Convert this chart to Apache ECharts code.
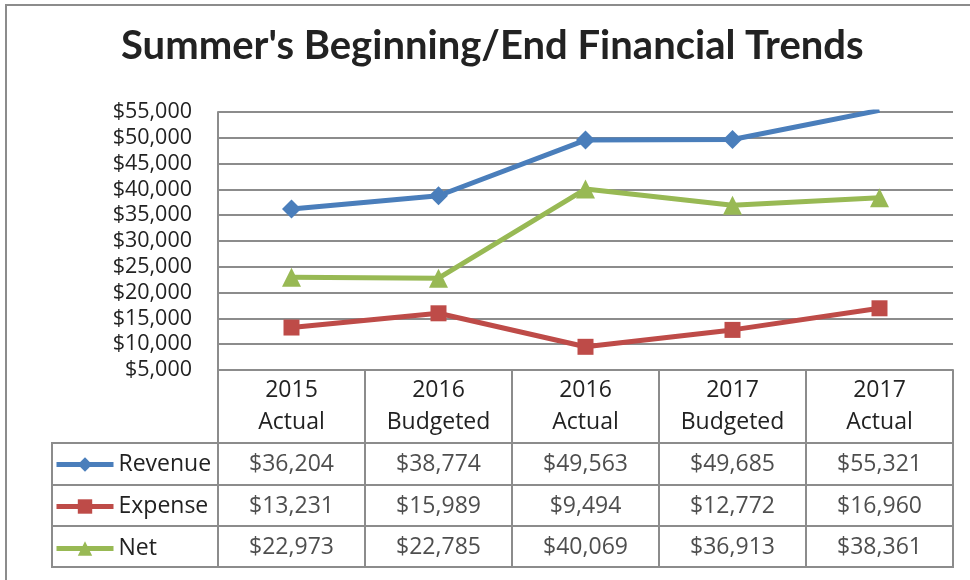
<!DOCTYPE html>
<html>
<head>
<meta charset="utf-8">
<script src="https://cdn.jsdelivr.net/npm/echarts@6/dist/echarts.min.js"></script>
<style>
	html, body { margin: 0; padding: 0; background: #fff; }
	#frame { position: absolute; left: 5px; top: 4px; width: 1000px; height: 1000px; border: 2px solid #8c8c8c; }
	#main { position: absolute; left: 0; top: 0; width: 970px; height: 580px; }
</style>
</head>
<body>
<div id="frame"></div>
<div id="main"></div>
<script>
// 类目与数据
const categories = ['2015\nActual', '2016\nBudgeted', '2016\nActual', '2017\nBudgeted', '2017\nActual'];
const revenue = [36204, 38774, 49563, 49685, 55321];
const expense = [13231, 15989, 9494, 12772, 16960];
const net = [22973, 22785, 40069, 36913, 38361];
const seriesNames = ['Revenue', 'Expense', 'Net'];
const yMin = 5000, yMax = 55000, yStep = 5000;

const colors = ['#4a7ebb', '#be4b48', '#98b954'];
const gridColor = '#8c8c8c';
const fontFamily = '"Open Sans", sans-serif';
const tableFont = 23;

const money = v => '$' + Number(v).toLocaleString('en-US');

// 表格单元格数据
const rows = [revenue, expense, net];
const tableCells = [];
rows.forEach((vals, r) => {
	vals.forEach((v, c) => tableCells.push([c, r, v]));
});

const lineSeries = (name, data, color, symbol, size) => ({
	name,
	type: 'line',
	xAxisIndex: 0,
	yAxisIndex: 0,
	data,
	symbol,
	symbolSize: size,
	lineStyle: { width: 5, color },
	itemStyle: { color },
	clip: true,
	animation: false
});

const option = {
	animation: false,
	title: {
		text: "Summer's Beginning/End Financial Trends",
		left: 121,
		top: 26,
		padding: 0,
		textStyle: { fontFamily: 'Lato, sans-serif', fontSize: 40, fontWeight: 'bold', color: '#222' }
	},
	legend: {
		data: seriesNames,
		orient: 'vertical',
		left: 54,
		top: 453,
		padding: 0,
		itemWidth: 57,
		itemHeight: 18,
		itemGap: 19,
		lineStyle: { width: 5 },
		textStyle: { fontFamily, fontSize: tableFont, color: '#222', lineHeight: 20 }
	},
	grid: [
		{ left: 218, top: 112, width: 735, height: 258 },
		{ left: 218, top: 443, width: 735, height: 124, show: true, borderColor: gridColor, borderWidth: 2 },
		{ left: 52, top: 443, width: 166, height: 124, show: true, borderColor: gridColor, borderWidth: 2 }
	],
	xAxis: [
		{
			gridIndex: 0,
			type: 'category',
			data: categories,
			position: 'bottom',
			axisLine: { lineStyle: { color: gridColor, width: 2 } },
			axisTick: { show: true, interval: 0, length: 73, lineStyle: { color: gridColor, width: 2 } },
			axisLabel: { interval: 0, margin: 4, fontFamily, fontSize: tableFont, lineHeight: 32, color: '#222' }
		},
		{
			gridIndex: 1,
			type: 'category',
			data: categories,
			axisLine: { show: false },
			axisTick: { show: false },
			axisLabel: { show: false },
			splitLine: { show: true, interval: 0, lineStyle: { color: gridColor, width: 2 } }
		},
		{ gridIndex: 2, type: 'value', show: false }
	],
	yAxis: [
		{
			gridIndex: 0,
			type: 'value',
			min: yMin,
			max: yMax,
			interval: yStep,
			axisLine: { show: true, lineStyle: { color: gridColor, width: 2 } },
			axisTick: { show: false },
			axisLabel: { margin: 26, fontFamily, fontSize: 21.5, color: '#222', formatter: money },
			splitLine: { lineStyle: { color: gridColor, width: 2 } }
		},
		{
			gridIndex: 1,
			type: 'category',
			data: seriesNames,
			inverse: true,
			axisLine: { show: false },
			axisTick: { show: false },
			axisLabel: { show: false },
			splitLine: { show: true, interval: 0, lineStyle: { color: gridColor, width: 2 } }
		},
		{
			gridIndex: 2,
			type: 'category',
			data: seriesNames,
			inverse: true,
			axisLine: { show: false },
			axisTick: { show: false },
			axisLabel: { show: false },
			splitLine: { show: true, interval: 0, lineStyle: { color: gridColor, width: 2 } }
		}
	],
	series: [
		lineSeries('Revenue', revenue, colors[0], 'diamond', 19),
		lineSeries('Expense', expense, colors[1], 'rect', 16),
		lineSeries('Net', net, colors[2], 'triangle', 19),
		{
			name: 'table',
			type: 'scatter',
			xAxisIndex: 1,
			yAxisIndex: 1,
			data: tableCells,
			symbolSize: 2,
			itemStyle: { color: 'rgba(0,0,0,0)' },
			silent: true,
			label: {
				show: true,
				position: 'inside',
				offset: [0, 1],
				fontFamily,
				fontSize: tableFont,
				color: '#222',
				formatter: p => money(p.value[2])
			}
		}
	]
};

const chart = echarts.init(document.getElementById('main'), null, { renderer: 'canvas' });
chart.setOption(option);
</script>
</body>
</html>
